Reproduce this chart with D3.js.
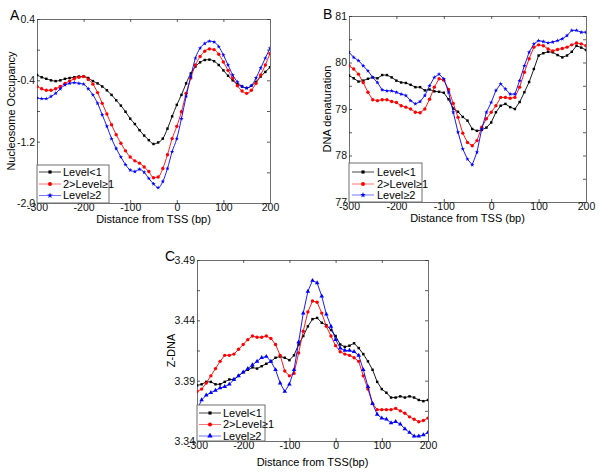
<!DOCTYPE html>
<html><head><meta charset="utf-8">
<script src="https://cdn.jsdelivr.net/npm/d3@7"></script>
<style>
body{margin:0;background:#fff;}
text{font-family:"Liberation Sans",Arial,sans-serif;}
</style>
</head><body>
<svg id="chart" width="600" height="474"></svg>
<script>
// ---------- shared data ----------
const bp = [-300,-290,-280,-270,-260,-250,-240,-230,-220,-210,
            -200,-190,-180,-170,-160,-150,-140,-130,-120,-110,
            -100,-90,-80,-70,-60,-50,-40,-30,-20,-10,
            0,10,20,30,40,50,60,70,80,90,
            100,110,120,130,140,150,160,170,180,190,200];
const seriesNames = ["Level<1","2>Level\u22651","Level\u22652"];
const seriesColors = ["#000000","#ff0000","#0000ff"];
const xTickValues = [-300,-200,-100,0,100,200];

// ---------- Panel A: Nucleosome Occupancy ----------
const aBlack = [-0.33,-0.36,-0.38,-0.40,-0.41,-0.40,-0.38,-0.37,-0.36,-0.35,
                -0.35,-0.37,-0.41,-0.44,-0.48,-0.53,-0.59,-0.66,-0.73,-0.81,
                -0.90,-0.97,-1.05,-1.12,-1.18,-1.23,-1.21,-1.16,-1.03,-0.87,
                -0.72,-0.59,-0.44,-0.31,-0.22,-0.165,-0.135,-0.13,-0.15,-0.20,
                -0.27,-0.34,-0.40,-0.45,-0.48,-0.50,-0.47,-0.42,-0.35,-0.29,-0.23];
const aRed   = [-0.48,-0.51,-0.53,-0.53,-0.51,-0.48,-0.44,-0.41,-0.38,-0.36,
                -0.35,-0.39,-0.45,-0.56,-0.70,-0.84,-0.98,-1.11,-1.22,-1.32,
                -1.40,-1.45,-1.48,-1.53,-1.59,-1.67,-1.66,-1.55,-1.37,-1.16,
                -1.00,-0.81,-0.57,-0.37,-0.20,-0.09,-0.02,0.01,0.00,-0.06,
                -0.16,-0.27,-0.37,-0.47,-0.54,-0.57,-0.53,-0.44,-0.33,-0.20,-0.05];
const aBlue  = [-0.63,-0.64,-0.64,-0.61,-0.57,-0.51,-0.46,-0.44,-0.43,-0.44,
                -0.45,-0.51,-0.59,-0.70,-0.85,-1.00,-1.16,-1.29,-1.40,-1.50,
                -1.57,-1.59,-1.56,-1.60,-1.68,-1.75,-1.80,-1.72,-1.55,-1.33,
                -1.16,-0.90,-0.61,-0.35,-0.11,0.02,0.08,0.11,0.10,0.04,
                -0.07,-0.20,-0.33,-0.42,-0.48,-0.50,-0.47,-0.37,-0.24,-0.11,0.02];
const aYTicks  = [0.4,0,-0.4,-0.8,-1.2,-1.6,-2.0];
const aYLabels = [0.4,-0.4,-1.2,-2.0];

// ---------- Panel B: DNA denaturation ----------
const bBlack = [79.72,79.66,79.59,79.61,79.65,79.68,79.66,79.73,79.73,79.68,
                79.61,79.57,79.56,79.52,79.47,79.47,79.40,79.42,79.38,79.37,
                79.35,79.21,79.01,78.94,78.83,78.75,78.57,78.53,78.55,78.60,
                78.71,78.93,79.07,79.11,79.04,79.00,79.15,79.36,79.58,79.86,
                80.15,80.20,80.23,80.22,80.16,80.11,80.15,80.23,80.36,80.32,80.27];
const bRed   = [79.93,79.86,79.75,79.57,79.36,79.20,79.18,79.20,79.20,79.16,
                79.14,79.07,79.04,79.00,78.93,78.92,79.00,79.21,79.47,79.65,
                79.62,79.42,79.12,78.82,78.48,78.28,78.21,78.32,78.61,78.79,
                78.93,79.07,79.25,79.25,79.23,79.25,79.47,79.79,80.08,80.33,
                80.38,80.36,80.29,80.25,80.28,80.30,80.33,80.38,80.42,80.40,80.36];
const bBlue  = [80.22,80.11,80.04,79.93,79.82,79.68,79.57,79.41,79.39,79.39,
                79.36,79.32,79.29,79.18,79.11,79.16,79.29,79.50,79.68,79.75,
                79.65,79.36,78.93,78.50,78.14,77.92,77.80,78.07,78.57,78.93,
                79.14,79.40,79.54,79.43,79.32,79.32,79.61,79.93,80.22,80.40,
                80.47,80.45,80.42,80.44,80.47,80.51,80.58,80.69,80.69,80.65,80.65];
const bYTicks  = [81,80.5,80,79.5,79,78.5,78,77.5,77];
const bYLabels = [81,80,79,78,77];

// ---------- Panel C: Z-DNA ----------
const cBlack = [3.386,3.387,3.389,3.389,3.387,3.387,3.389,3.391,3.391,3.394,
                3.397,3.399,3.401,3.400,3.402,3.404,3.406,3.409,3.410,3.409,
                3.407,3.411,3.420,3.427,3.435,3.441,3.442,3.438,3.436,3.432,
                3.427,3.420,3.418,3.419,3.421,3.417,3.412,3.406,3.399,3.389,
                3.383,3.380,3.376,3.376,3.377,3.376,3.377,3.376,3.374,3.373,3.374];
const cRed   = [3.381,3.383,3.388,3.394,3.400,3.406,3.411,3.411,3.412,3.416,
                3.420,3.424,3.427,3.426,3.426,3.427,3.425,3.420,3.411,3.398,
                3.394,3.396,3.413,3.431,3.447,3.456,3.455,3.446,3.435,3.427,
                3.419,3.414,3.412,3.411,3.409,3.406,3.394,3.383,3.371,3.366,
                3.366,3.366,3.366,3.367,3.365,3.363,3.360,3.358,3.356,3.357,3.359];
const cBlue  = [3.366,3.374,3.378,3.380,3.382,3.384,3.385,3.387,3.391,3.394,
                3.397,3.400,3.403,3.406,3.409,3.410,3.406,3.399,3.388,3.381,
                3.387,3.399,3.422,3.446,3.464,3.473,3.471,3.460,3.445,3.435,
                3.424,3.417,3.415,3.415,3.414,3.411,3.399,3.385,3.371,3.362,
                3.359,3.358,3.355,3.356,3.354,3.350,3.347,3.344,3.344,3.345,3.347];
const cYTicks  = [3.49,3.465,3.44,3.415,3.39,3.365,3.34];
const cYLabels = [3.49,3.44,3.39,3.34];

// ---------- drawing ----------
const svg = d3.select("#chart");
const FRAME = "#6e6e6e";
const TICKFONT = 10.5;

function drawPanel(cfg){
  const {x0,x1,y0,y1} = cfg.box;
  const x = d3.scaleLinear().domain([-300,200]).range([x0,x1]);
  const y = d3.scaleLinear().domain(cfg.yDomain).range([y1,y0]);
  const g = svg.append("g");

  const clipId = "clip"+cfg.letter;
  svg.append("clipPath").attr("id",clipId).append("rect")
     .attr("x",x0).attr("y",y0).attr("width",x1-x0).attr("height",y1-y0);

  const isLab = (v,list)=>list.some(l=>Math.abs(l-v)<1e-9);

  const ax = [
    {a:d3.axisBottom(x).tickValues(xTickValues).tickFormat(d=>String(d)).tickPadding(1), t:`translate(0,${y1})`},
    {a:d3.axisTop(x).tickValues(xTickValues).tickFormat(()=>"").tickPadding(1), t:`translate(0,${y0})`},
    {a:d3.axisLeft(y).tickValues(cfg.yTicks).tickFormat(d=>isLab(d,cfg.yLabels)?d.toFixed(cfg.dec):"").tickPadding(2), t:`translate(${x0},0)`},
    {a:d3.axisRight(y).tickValues(cfg.yTicks).tickFormat(()=>"").tickPadding(2), t:`translate(${x1},0)`}
  ];
  ax.forEach(o=>{
    const ag = g.append("g").attr("transform",o.t)
      .call(o.a.tickSizeInner(-3).tickSizeOuter(0));
    ag.select(".domain").attr("stroke",FRAME).attr("stroke-width",1);
    ag.selectAll(".tick line").attr("stroke","#333").attr("stroke-width",0.8);
    ag.selectAll(".tick text").attr("font-size",TICKFONT).attr("fill","#111")
      .attr("font-family","Liberation Sans, Arial, sans-serif");
  });

  const plot = g.append("g").attr("clip-path",`url(#${clipId})`);
  const line = d3.line().x((d,i)=>x(bp[i])).y(d=>y(d)).curve(cfg.curve);
  cfg.series.forEach((vals,si)=>{
    plot.append("path").datum(vals).attr("d",line)
      .attr("fill","none").attr("stroke",seriesColors[si]).attr("stroke-width",0.9);
    const sym = d3.symbol().type(cfg.symbols[si]).size(cfg.symSizes[si]);
    plot.selectAll(null).data(vals).enter().append("path")
      .attr("d",sym)
      .attr("transform",(d,i)=>`translate(${x(bp[i])},${y(d)})`)
      .attr("fill",seriesColors[si]);
  });

  const L = cfg.legend;
  g.append("rect").attr("x",L.x).attr("y",L.y).attr("width",L.w).attr("height",L.h)
    .attr("fill","#fff").attr("stroke",FRAME).attr("stroke-width",1);
  seriesNames.forEach((nm,si)=>{
    const ry = L.rows[si];
    g.append("line").attr("x1",L.lx0).attr("x2",L.lx1).attr("y1",ry).attr("y2",ry)
      .attr("stroke",seriesColors[si]).attr("stroke-width",0.9).attr("opacity",si===0?0.8:0.6);
    g.append("path").attr("d",d3.symbol().type(cfg.symbols[si]).size(cfg.symSizes[si]+4)())
      .attr("transform",`translate(${(L.lx0+L.lx1)/2},${ry})`).attr("fill",seriesColors[si]);
    g.append("text").attr("x",L.tx).attr("y",ry).attr("dy","0.35em")
      .attr("font-size",11).attr("fill","#000").text(nm);
  });

  g.append("text").attr("x",(x0+x1)/2).attr("y",cfg.xTitleY).attr("text-anchor","middle")
    .attr("font-size",11).attr("fill","#000").text(cfg.xTitle);
  g.append("text").attr("transform",`translate(${cfg.yTitleX},${(y0+y1)/2}) rotate(-90)`)
    .attr("text-anchor","middle").attr("dy","0.35em")
    .attr("font-size",11).attr("fill","#000").text(cfg.yTitle);
  g.append("text").attr("x",cfg.letterPos[0]).attr("y",cfg.letterPos[1])
    .attr("font-size",14).attr("fill","#000").text(cfg.letter);
}

drawPanel({
  letter:"A", letterPos:[10,20],
  box:{x0:37,x1:270,y0:19,y1:203},
  yDomain:[-2.0,0.4], yTicks:aYTicks, yLabels:aYLabels, dec:1,
  series:[aBlack,aRed,aBlue], curve:d3.curveMonotoneX,
  symbols:[d3.symbolSquare,d3.symbolCircle,d3.symbolStar], symSizes:[6,9,6],
  legend:{x:37,y:165,w:72,h:38,rows:[172,184,195.5],lx0:39,lx1:61,tx:63},
  xTitle:"Distance from TSS (bp)", xTitleY:223,
  yTitle:"Nucleosome Occupancy", yTitleX:11
});
drawPanel({
  letter:"B", letterPos:[323,19],
  box:{x0:349,x1:586,y0:16,y1:202},
  yDomain:[77,81], yTicks:bYTicks, yLabels:bYLabels, dec:0,
  series:[bBlack,bRed,bBlue], curve:d3.curveLinear,
  symbols:[d3.symbolSquare,d3.symbolCircle,d3.symbolStar], symSizes:[6,9,6],
  legend:{x:349,y:163,w:73,h:39,rows:[172,184,195],lx0:352,lx1:374,tx:377},
  xTitle:"Distance from TSS (bp)", xTitleY:222,
  yTitle:"DNA denaturation", yTitleX:327
});
drawPanel({
  letter:"C", letterPos:[165,261],
  box:{x0:197,x1:428,y0:260,y1:441},
  yDomain:[3.34,3.49], yTicks:cYTicks, yLabels:cYLabels, dec:2,
  series:[cBlack,cRed,cBlue], curve:d3.curveLinear,
  symbols:[d3.symbolSquare,d3.symbolCircle,d3.symbolTriangle], symSizes:[6,9,9],
  legend:{x:197,y:405,w:68,h:36,rows:[413,424.5,436],lx0:199,lx1:221,tx:223},
  xTitle:"Distance from TSS(bp)", xTitleY:466,
  yTitle:"Z-DNA", yTitleX:171
});
</script>
</body></html>
